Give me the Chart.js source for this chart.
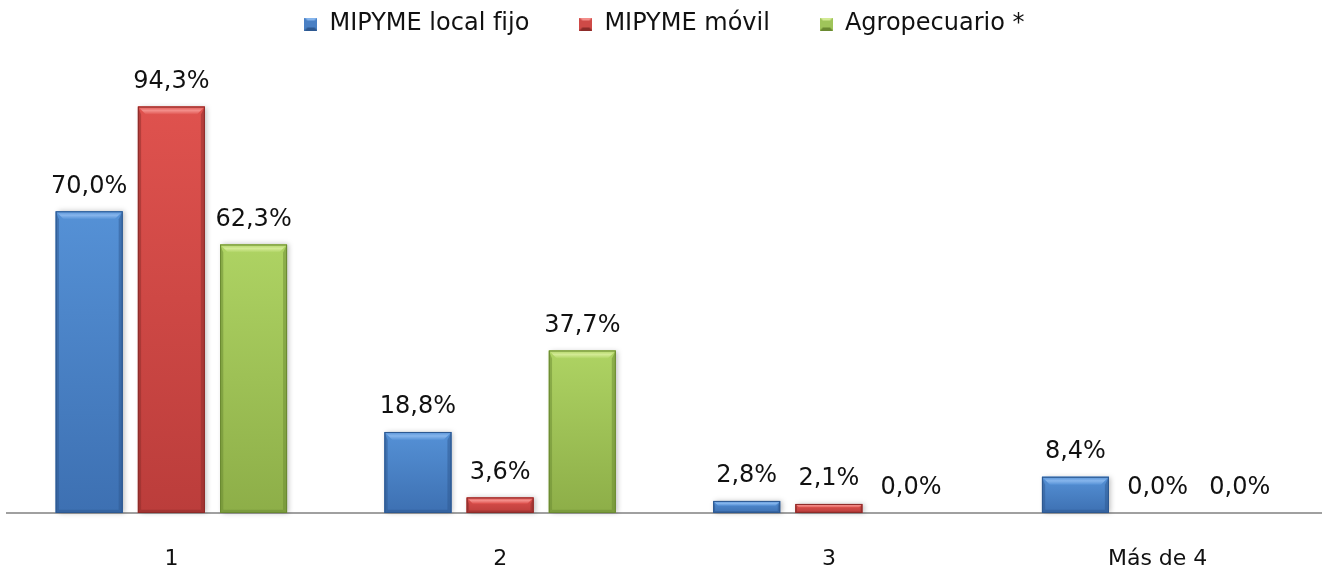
<!DOCTYPE html>
<html lang="es">

<head>
    <meta charset="UTF-8">
    <title>Gráfico</title>
    <script src="https://cdn.jsdelivr.net/npm/chart.js@4.4.1/dist/chart.umd.min.js"></script>
    <style>
        html, body { margin: 0; padding: 0; background: #fff; }
        .caja { width: 1322px; height: 574px; }
    </style>
</head>

<body>
    <div class="caja">
        <canvas id="grafico"></canvas>
    </div>

<script>
    // datos del grafico
    const categorias = ['1', '2', '3', 'Más de 4'];
    const series = ['MIPYME local fijo', 'MIPYME móvil', 'Agropecuario *'];
    const localFijo = [70.0, 18.8, 2.8, 8.4];
    const movil = [94.3, 3.6, 2.1, 0.0];
    const agropecuario = [62.3, 37.7, 0.0, 0.0];

    // colores: base, arriba, abajo, bisel, borde
    const colores = [
        { base: '#4a80c4', arriba: '#5591d6', abajo: '#3d70b2', bisel: '#86b5ec', borde: '#2d5890' },
        { base: '#cf4a47', arriba: '#df524e', abajo: '#bb3d3b', bisel: '#f38e8a', borde: '#8c2b29' },
        { base: '#9fc45a', arriba: '#aed363', abajo: '#8dae48', bisel: '#d3ea95', borde: '#6a8931' }
    ];

    const fuente = 'DejaVu Sans';

    function cajaLeyenda(c) {
        const cv = document.createElement('canvas');
        cv.width = 13; cv.height = 13;
        const x = cv.getContext('2d');
        x.fillStyle = c.base;
        x.fillRect(0, 0, 13, 13);
        x.fillStyle = c.bisel;
        x.beginPath(); x.moveTo(0, 0); x.lineTo(13, 0); x.lineTo(10, 3); x.lineTo(3, 3); x.closePath(); x.fill();
        x.fillStyle = c.borde;
        x.beginPath(); x.moveTo(0, 13); x.lineTo(13, 13); x.lineTo(10, 10); x.lineTo(3, 10); x.closePath(); x.fill();
        return cv;
    }

    // dibuja las barras con bisel encima de las del chart
    const biselBarras = {
        id: 'biselBarras',
        afterDatasetsDraw(chart) {
            const ctx = chart.ctx;
            chart.data.datasets.forEach(function (ds, i) {
                const c = colores[i];
                chart.getDatasetMeta(i).data.forEach(function (bar) {
                    const p = bar.getProps(['x', 'y', 'base', 'width'], true);
                    const L = p.x - p.width / 2, R = p.x + p.width / 2;
                    const T = Math.min(p.y, p.base), B = Math.max(p.y, p.base);
                    const h = B - T;
                    if (h < 0.5) return;
                    const b = Math.min(8, h / 2.5);
                    ctx.save();
                    ctx.shadowColor = 'rgba(0,0,0,0.25)';
                    ctx.shadowBlur = 5;
                    ctx.shadowOffsetX = 2;
                    const g = ctx.createLinearGradient(0, T, 0, B);
                    g.addColorStop(0, c.arriba);
                    g.addColorStop(1, c.abajo);
                    ctx.fillStyle = g;
                    ctx.fillRect(L, T, R - L, h);
                    ctx.restore();

                    ctx.save();
                    // bisel arriba
                    const gb = ctx.createLinearGradient(0, T, 0, T + b);
                    gb.addColorStop(0, c.arriba);
                    gb.addColorStop(0.5, c.bisel);
                    gb.addColorStop(1, c.arriba);
                    ctx.fillStyle = gb;
                    ctx.beginPath();
                    ctx.moveTo(L, T); ctx.lineTo(R, T); ctx.lineTo(R - b, T + b); ctx.lineTo(L + b, T + b);
                    ctx.closePath(); ctx.fill();
                    // lados
                    ctx.globalAlpha = 0.5;
                    ctx.fillStyle = c.borde;
                    ctx.beginPath();
                    ctx.moveTo(L, T); ctx.lineTo(L + b * 0.4, T + b); ctx.lineTo(L + b * 0.4, B - b * 0.4); ctx.lineTo(L, B);
                    ctx.closePath(); ctx.fill();
                    ctx.beginPath();
                    ctx.moveTo(R, T); ctx.lineTo(R - b * 0.5, T + b); ctx.lineTo(R - b * 0.5, B - b * 0.4); ctx.lineTo(R, B);
                    ctx.closePath(); ctx.fill();
                    ctx.beginPath();
                    ctx.moveTo(L, B); ctx.lineTo(L + b * 0.4, B - b * 0.4); ctx.lineTo(R - b * 0.5, B - b * 0.4); ctx.lineTo(R, B);
                    ctx.closePath(); ctx.fill();
                    ctx.globalAlpha = 1;
                    ctx.strokeStyle = c.borde;
                    ctx.lineWidth = 1;
                    ctx.strokeRect(L + 0.5, T + 0.5, R - L - 1, h - 1);
                    ctx.restore();
                });
            });
        }
    };

    // etiquetas de valor encima de cada barra
    const etiquetas = {
        id: 'etiquetas',
        afterDatasetsDraw(chart) {
            const ctx = chart.ctx;
            ctx.save();
            ctx.font = '24px "' + fuente + '"';
            ctx.fillStyle = '#111';
            ctx.textAlign = 'center';
            ctx.textBaseline = 'bottom';
            chart.data.datasets.forEach(function (ds, i) {
                chart.getDatasetMeta(i).data.forEach(function (bar, j) {
                    const p = bar.getProps(['x', 'y'], true);
                    const txt = ds.data[j].toFixed(1).replace('.', ',') + '%';
                    ctx.fillText(txt, p.x, p.y - 13);
                });
            });
            ctx.restore();
        }
    };

    const margenLeyenda = {
        id: 'margenLeyenda',
        beforeInit(chart) {
            const fit = chart.legend.fit;
            chart.legend.fit = function () {
                fit.bind(chart.legend)();
                this.height += 36;
            };
        }
    };

    const valores = [localFijo, movil, agropecuario];

    new Chart(document.getElementById('grafico'), {
        type: 'bar',
        data: {
            labels: categorias,
            datasets: series.map(function (nombre, i) {
                return {
                    label: nombre,
                    data: valores[i],
                    backgroundColor: colores[i].base,
                    categoryPercentage: 0.75,
                    barPercentage: 0.815
                };
            })
        },
        options: {
            responsive: true,
            maintainAspectRatio: false,
            animation: false,
            layout: { padding: { left: 7, right: 0, top: -38, bottom: 0 } },
            scales: {
                x: {
                    grid: { display: false, drawTicks: false },
                    border: { display: true, color: '#a0a0a0', width: 2 },
                    ticks: { color: '#111', font: { family: fuente, size: 22 }, padding: 33 },
                    afterFit: function (scale) { scale.height = 61; }
                },
                y: {
                    display: false,
                    min: 0,
                    max: 100
                }
            },
            plugins: {
                tooltip: { enabled: false },
                legend: {
                    position: 'top',
                    labels: {
                        color: '#111',
                        font: { family: fuente, size: 24 },
                        usePointStyle: true,
                        boxWidth: 13,
                        boxHeight: 13,
                        padding: 50,
                        generateLabels: function (chart) {
                            return chart.data.datasets.map(function (ds, i) {
                                return {
                                    text: ds.label,
                                    pointStyle: cajaLeyenda(colores[i]),
                                    fontColor: '#111',
                                    datasetIndex: i,
                                    hidden: false,
                                    lineWidth: 0
                                };
                            });
                        }
                    }
                }
            }
        },
        plugins: [margenLeyenda, biselBarras, etiquetas]
    });
</script>
</body>

</html>
